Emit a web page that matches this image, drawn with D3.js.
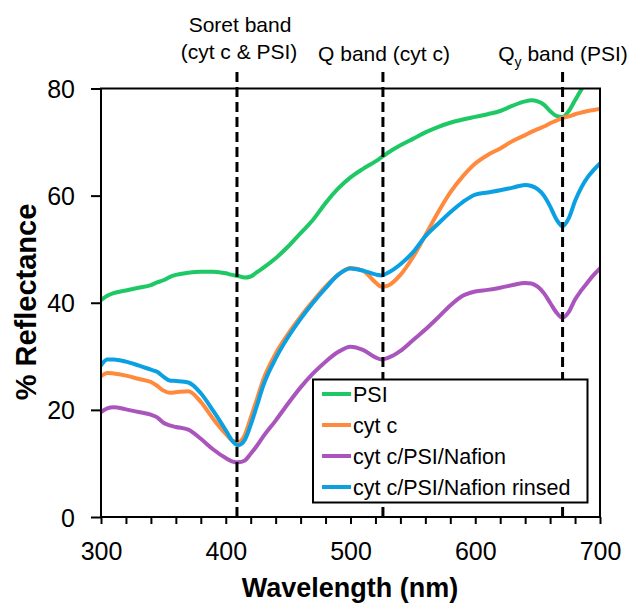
<!DOCTYPE html>
<html>
<head>
<meta charset="utf-8">
<script src="https://d3js.org/d3.v7.min.js"></script>
<style>
  body { margin: 0; background: #fff; }
  text { font-family: "Liberation Sans", Arial, sans-serif; fill: #000; }
</style>
</head>
<body>
<svg id="chart-area" width="632" height="603"></svg>
<script>
// wavelength grid (nm)
var wavelengths = [300,305,310,320,330,340,345,350,355,360,370,380,390,400,405,410,415,420,425,430,
  440,450,460,470,480,490,500,510,520,525,530,540,550,560,570,580,590,600,610,620,630,640,645,650,
  655,660,665,670,675,680,685,690,695,700];

// % reflectance
var psi = [40.5,41.3,41.8,42.3,42.8,43.3,43.8,44.2,44.8,45.2,45.6,45.8,45.8,45.5,45.2,45.0,44.7,44.9,45.7,46.5,
  48.3,50.5,53.0,55.5,58.6,61.3,63.4,65.0,66.4,67.2,68.0,69.4,70.6,71.8,72.8,73.6,74.2,74.7,75.2,75.8,76.8,77.6,77.8,77.6,
  77.0,75.8,74.9,74.7,75.8,77.8,79.8,81.5,null,null];
var cytc = [26.3,26.9,26.8,26.4,25.8,25.2,24.5,23.6,23.2,23.3,23.5,21.5,18.3,15.5,14.3,14.0,15.2,18.5,22.0,25.6,
  30.5,34.2,37.4,40.3,43.0,45.2,46.5,46.0,43.8,43.0,43.2,45.2,48.5,52.6,56.8,60.6,63.6,66.0,67.6,68.8,70.2,71.3,71.9,72.4,
  72.9,73.5,74.0,74.5,74.8,75.2,75.5,75.8,76.0,76.2];
var nafion = [19.6,20.3,20.5,20.1,19.6,19.1,18.6,17.6,17.1,16.8,16.3,14.6,12.6,11.0,10.4,10.2,10.5,11.8,13.3,15.0,
  18.0,21.2,24.2,26.8,29.0,30.8,31.8,31.2,29.8,29.4,29.7,31.0,33.0,35.0,37.2,39.5,41.3,42.1,42.4,42.8,43.3,43.7,43.6,43.0,
  41.8,40.0,38.2,37.2,38.3,40.6,42.3,43.8,45.2,46.4];
var rinsed = [28.3,29.4,29.4,29.0,28.3,27.5,27.1,26.2,25.5,25.4,25.1,23.1,19.8,16.2,14.3,13.4,14.3,17.2,20.8,24.5,
  29.6,33.6,37.0,40.0,42.7,45.2,46.4,46.0,45.3,45.1,45.6,47.2,49.4,52.4,54.7,56.9,58.8,60.2,60.6,61.0,61.5,62.0,61.8,61.2,
  60.0,58.0,55.6,54.3,55.8,59.0,61.5,63.4,64.8,66.0];

var seriesNames = ['PSI','cyt c','cyt c/PSI/Nafion','cyt c/PSI/Nafion rinsed'];
var seriesColors = ['#1dc865','#ff8a3d','#aa55be','#0aa0e2'];
var seriesValues = [psi, cytc, nafion, rinsed];

// marked bands
var bandLines = [409, 526, 670];

var xTicks = [300,320,340,360,380,400,420,440,460,480,500,520,540,560,580,600,620,640,660,680,700];
var yTicks = [0,20,40,60,80];

var svg = d3.select('#chart-area');

var x = d3.scaleLinear().domain([300,700]).range([101,600]);
var y = d3.scaleLinear().domain([0,80]).range([517,88.5]);

svg.append('clipPath').attr('id','plot-clip')
   .append('rect')
   .attr('x',x(300)).attr('y',y(80))
   .attr('width',x(700)-x(300)).attr('height',y(0)-y(80));

// axes
var xAxis = d3.axisBottom(x)
              .tickValues(xTicks)
              .tickSize(7)
              .tickSizeOuter(0)
              .tickFormat(function(d){ return d % 100 === 0 ? d : ''; });

svg.append('g')
   .attr('transform','translate(0,' + y(0) + ')')
   .call(xAxis)
   .call(function(g){
      g.select('.domain').remove();
      g.selectAll('line').attr('stroke','#000').attr('stroke-width',2);
      g.selectAll('text').attr('y',25).attr('dy','0.71em')
       .style('font-size','25px').style('font-family','"Liberation Sans", Arial, sans-serif');
   });

var yAxis = d3.axisLeft(y)
              .tickValues(yTicks)
              .tickSize(10)
              .tickSizeOuter(0);

svg.append('g')
   .attr('transform','translate(' + x(300) + ',0)')
   .call(yAxis)
   .call(function(g){
      g.select('.domain').remove();
      g.selectAll('line').attr('stroke','#000').attr('stroke-width',2);
      g.selectAll('text').attr('x',-26).attr('dy','0.36em')
       .style('font-size','25px').style('font-family','"Liberation Sans", Arial, sans-serif');
   });

// curves
var line = d3.line()
             .defined(function(d){ return d[1] !== null; })
             .x(function(d){ return x(d[0]); })
             .y(function(d){ return y(d[1]); })
             .curve(d3.curveMonotoneX);

var curves = svg.append('g').attr('clip-path','url(#plot-clip)');

seriesValues.forEach(function(vals, i){
    var pts = wavelengths.map(function(w, j){ return [w, vals[j]]; });
    curves.append('path')
          .datum(pts)
          .attr('d', line)
          .attr('fill','none')
          .attr('stroke', seriesColors[i])
          .attr('stroke-width',4)
          .attr('stroke-linejoin','round')
          .attr('stroke-linecap','round');
});

// dashed band markers
svg.selectAll('.band').data(bandLines).enter()
   .append('line')
   .attr('class','band')
   .attr('x1',function(d){ return x(d); })
   .attr('x2',function(d){ return x(d); })
   .attr('y1',72)
   .attr('y2',y(0))
   .attr('stroke','#000')
   .attr('stroke-width',3)
   .attr('stroke-dasharray','10,5');

// frame
svg.append('rect')
   .attr('x',x(300)).attr('y',y(80))
   .attr('width',x(700)-x(300)).attr('height',y(0)-y(80))
   .attr('fill','none')
   .attr('stroke','#000')
   .attr('stroke-width',2);

// band labels
var lab = svg.append('g').style('font-size','21px').attr('text-anchor','middle');
lab.append('text').attr('x',240).attr('y',32).text('Soret band');
lab.append('text').attr('x',239).attr('y',59).text('(cyt c & PSI)');
lab.append('text').attr('x',384).attr('y',61).text('Q band (cyt c)');
var qy = lab.append('text').attr('x',563).attr('y',61);
qy.append('tspan').text('Q');
qy.append('tspan').attr('dy',6).style('font-size','14px').text('y');
qy.append('tspan').attr('dy',-6).text(' band (PSI)');

// legend
var legend = svg.append('g');
legend.append('rect')
      .attr('x',313).attr('y',379.5)
      .attr('width',274.5).attr('height',123)
      .attr('fill','#fff')
      .attr('stroke','#000')
      .attr('stroke-width',2);

var items = legend.selectAll('.item').data(seriesNames).enter()
                  .append('g')
                  .attr('transform',function(d,i){ return 'translate(0,' + (394 + i*31) + ')'; });
items.append('line')
     .attr('x1',322).attr('x2',351)
     .attr('stroke',function(d,i){ return seriesColors[i]; })
     .attr('stroke-width',4);
items.append('text')
     .attr('x',353).attr('y',8)
     .style('font-size','21.5px')
     .text(function(d){ return d; });

// axis titles
svg.append('text')
   .attr('x',350).attr('y',597)
   .attr('text-anchor','middle')
   .style('font-size','27px').style('font-weight','bold')
   .text('Wavelength (nm)');

svg.append('text')
   .attr('transform','translate(36,302) rotate(-90)')
   .attr('text-anchor','middle')
   .style('font-size','29px').style('font-weight','bold')
   .text('% Reflectance');
</script>
</body>
</html>
